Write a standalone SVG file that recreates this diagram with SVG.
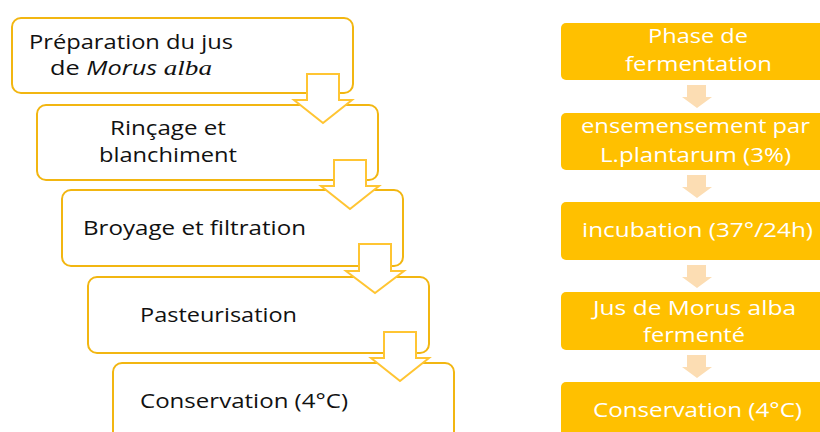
<svg xmlns="http://www.w3.org/2000/svg" width="820" height="432" viewBox="0 0 820 432">
<style>
.lb{fill:#fff;stroke:#F2B611;stroke-width:2}
.rb{fill:#FFC000;stroke:none}
.ha{fill:#fff;stroke:#FFC533;stroke-width:2;stroke-linejoin:miter}
.sa{fill:#FCDDB3;stroke:none}
.lt{font-family:"Open Sans","Noto Sans",sans-serif;font-size:20.5px;fill:#111}
.rt{font-family:"Open Sans","Noto Sans",sans-serif;font-size:20.5px;fill:#fff}
</style>
<rect width="820" height="432" fill="#fff"/>
<g id="L1"><rect class="lb" x="12" y="18" width="341" height="75" rx="9"/>
<text class="lt" x="29" y="49" textLength="204" lengthAdjust="spacingAndGlyphs">Préparation du jus</text>
<text class="lt" x="50" y="75" textLength="162" lengthAdjust="spacingAndGlyphs">de <tspan font-style="italic">Morus</tspan> <tspan font-style="italic" font-family="Liberation Serif, serif" font-size="22">alba</tspan></text></g>
<g id="L2"><rect class="lb" x="37" y="105" width="341" height="75" rx="9"/>
<text class="lt" x="110" y="135" textLength="116" lengthAdjust="spacingAndGlyphs">Rinçage et</text>
<text class="lt" x="99" y="162" textLength="138" lengthAdjust="spacingAndGlyphs">blanchiment</text></g>
<g id="L3"><rect class="lb" x="62" y="190" width="341" height="76" rx="9"/>
<text class="lt" x="83" y="235" textLength="223" lengthAdjust="spacingAndGlyphs">Broyage et filtration</text></g>
<g id="L4"><rect class="lb" x="88" y="277" width="341" height="76" rx="9"/>
<text class="lt" x="140" y="322" textLength="157" lengthAdjust="spacingAndGlyphs">Pasteurisation</text></g>
<g id="L5"><rect class="lb" x="113" y="363" width="341" height="80" rx="9"/>
<text class="lt" x="140" y="408" textLength="208" lengthAdjust="spacingAndGlyphs">Conservation (4°C)</text></g>

<g id="R1"><rect class="rb" x="561" y="23" width="272" height="57" rx="5"/>
<text class="rt" x="648" y="43" textLength="100" lengthAdjust="spacingAndGlyphs">Phase de</text>
<text class="rt" x="625" y="71" textLength="147" lengthAdjust="spacingAndGlyphs">fermentation</text></g>
<g id="R2"><rect class="rb" x="561" y="113" width="272" height="57" rx="5"/>
<text class="rt" x="581" y="133" textLength="229" lengthAdjust="spacingAndGlyphs">ensemensement  par</text>
<text class="rt" x="600" y="162" textLength="191" lengthAdjust="spacingAndGlyphs">L.plantarum (3%)</text></g>
<g id="R3"><rect class="rb" x="561" y="202" width="272" height="58" rx="5"/>
<text class="rt" x="582" y="237" textLength="231" lengthAdjust="spacingAndGlyphs">incubation (37°/24h)</text></g>
<g id="R4"><rect class="rb" x="561" y="292" width="272" height="58" rx="5"/>
<text class="rt" x="593" y="315" textLength="203" lengthAdjust="spacingAndGlyphs">Jus de Morus alba</text>
<text class="rt" x="643" y="342" textLength="102" lengthAdjust="spacingAndGlyphs">fermenté</text></g>
<g id="R5"><rect class="rb" x="561" y="382" width="272" height="60" rx="5"/>
<text class="rt" x="593" y="417" textLength="209" lengthAdjust="spacingAndGlyphs">Conservation (4°C)</text></g>

<g id="connectors">
<polygon class="ha" points="307,74 339,74 339,100 352,100 323,123 294,100 307,100"/>
<polygon class="ha" points="334,160 366,160 366,186 379,186 350,209 321,186 334,186"/>
<polygon class="ha" points="359,244 391,244 391,271 404,271 375,293 346,271 359,271"/>
<polygon class="ha" points="384,332 416,332 416,358 429,358 400,381 371,358 384,358"/>
<polygon class="sa" points="687,85 706,85 706,97 712,97 697,108 682,97 687,97"/>
<polygon class="sa" points="687,175 706,175 706,187 712,187 697,198 682,187 687,187"/>
<polygon class="sa" points="687,265 706,265 706,277 712,277 697,288 682,277 687,277"/>
<polygon class="sa" points="687,355 706,355 706,367 712,367 697,378 682,367 687,367"/>
</g>
</svg>
